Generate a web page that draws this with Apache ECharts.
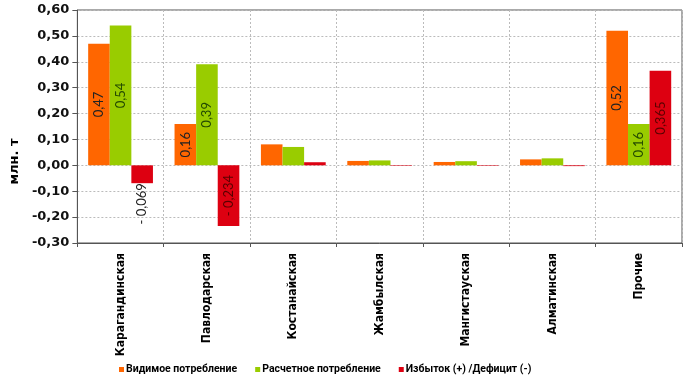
<!DOCTYPE html>
<html>
<head>
<meta charset="utf-8">
<script src="https://cdn.jsdelivr.net/npm/echarts@6/dist/echarts.min.js"></script>
<style>html,body{margin:0;padding:0;background:#fff}#c{width:700px;height:386px}</style>
</head>
<body>
<div id="c"></div>
<script>
const categories = ['Карагандинская','Павлодарская','Костанайская','Жамбылская','Мангистауская','Алматинская','Прочие'];
const visible = [0.47, 0.16, 0.081, 0.017, 0.013, 0.023, 0.52];
const estimated = [0.54, 0.39, 0.071, 0.019, 0.016, 0.027, 0.16];
const balance = [-0.069, -0.234, 0.012, -0.002, -0.002, -0.003, 0.365];
const labelledCategories = ['Карагандинская','Павлодарская','Прочие'];
const seriesNames = ['Видимое потребление','Расчетное потребление','Избыток (+) /Дефицит (-)'];
const yTicks = {min: -0.3, max: 0.6, interval: 0.1};

function fmt(v, d) {
  const s = Math.abs(v).toFixed(d).replace('.', ',');
  return v < 0 ? '- ' + s : s;
}
function makeData(arr) {
  return arr.map((v, i) => {
    const show = labelledCategories.includes(categories[i]);
    const item = {value: v, label: {show: show}};
    if (show && v < 0 && Math.abs(v) < 0.1) {
      item.label = {show: true, position: 'bottom', rotate: 90, align: 'right', verticalAlign: 'middle', distance: 0, color: '#222'};
    }
    return item;
  });
}
const labelBase = (color, d) => ({
  show: false, position: 'inside', rotate: 90, align: 'center', verticalAlign: 'middle',
  fontFamily: 'Lato', fontSize: 13, color: color,
  formatter: p => fmt(p.value, d)
});

const chart = echarts.init(document.getElementById('c'), null, {renderer: 'canvas'});
chart.setOption({
  animation: false,
  textStyle: {fontFamily: 'DejaVu Sans'},
  grid: {left: 76, right: 18, top: 10, bottom: 143, show: true, borderColor: '#555', borderWidth: 1, backgroundColor: 'transparent'},
  legend: {
    bottom: 6, left: 114, itemWidth: 5, itemHeight: 5, itemGap: 18,
    icon: 'rect',
    textStyle: {fontFamily: 'Roboto', fontWeight: 'bold', fontSize: 10.5, color: '#000', padding: [0,0,0,-3]},
    data: seriesNames
  },
  xAxis: {
    type: 'category', data: categories,
    axisLine: {onZero: false, lineStyle: {color: '#555'}},
    axisTick: {show: true, length: 4, lineStyle: {color: '#555'}},
    splitLine: {show: true, interval: 0, lineStyle: {color: '#bbb', type: [2, 2], width: 1}},
    axisLabel: {rotate: 90, interval: 0, fontFamily: 'DejaVu Sans Condensed', fontWeight: 'bold', fontSize: 12, color: '#000', margin: 10}
  },
  yAxis: {
    type: 'value', min: yTicks.min, max: yTicks.max, interval: yTicks.interval,
    name: 'млн. т', nameLocation: 'middle', nameGap: 52, nameRotate: 90,
    nameTextStyle: {fontFamily: 'DejaVu Sans', fontWeight: 'bold', fontSize: 13, color: '#000', padding: [0, 70, 0, 0]},
    axisLine: {show: true, lineStyle: {color: '#555'}},
    axisTick: {show: true, length: 5, lineStyle: {color: '#555'}},
    splitLine: {show: true, lineStyle: {color: '#bbb', type: [2, 2], width: 1}},
    axisLabel: {fontFamily: 'DejaVu Sans', fontWeight: 'bold', fontSize: 13, color: '#111', margin: 8,
      formatter: v => v.toFixed(2).replace('.', ',')}
  },
  series: [
    {name: seriesNames[0], type: 'bar', barGap: '0%', barCategoryGap: '25%', itemStyle: {color: '#FF6600'},
     label: labelBase('#222', 2), data: makeData(visible)},
    {name: seriesNames[1], type: 'bar', barGap: '0%', barCategoryGap: '25%', itemStyle: {color: '#99CC00'},
     label: labelBase('#234a00', 2), data: makeData(estimated)},
    {name: seriesNames[2], type: 'bar', barGap: '0%', barCategoryGap: '25%', itemStyle: {color: '#DD0011'},
     label: labelBase('#5a0000', 3), data: makeData(balance)}
  ]
});
</script>
</body>
</html>
